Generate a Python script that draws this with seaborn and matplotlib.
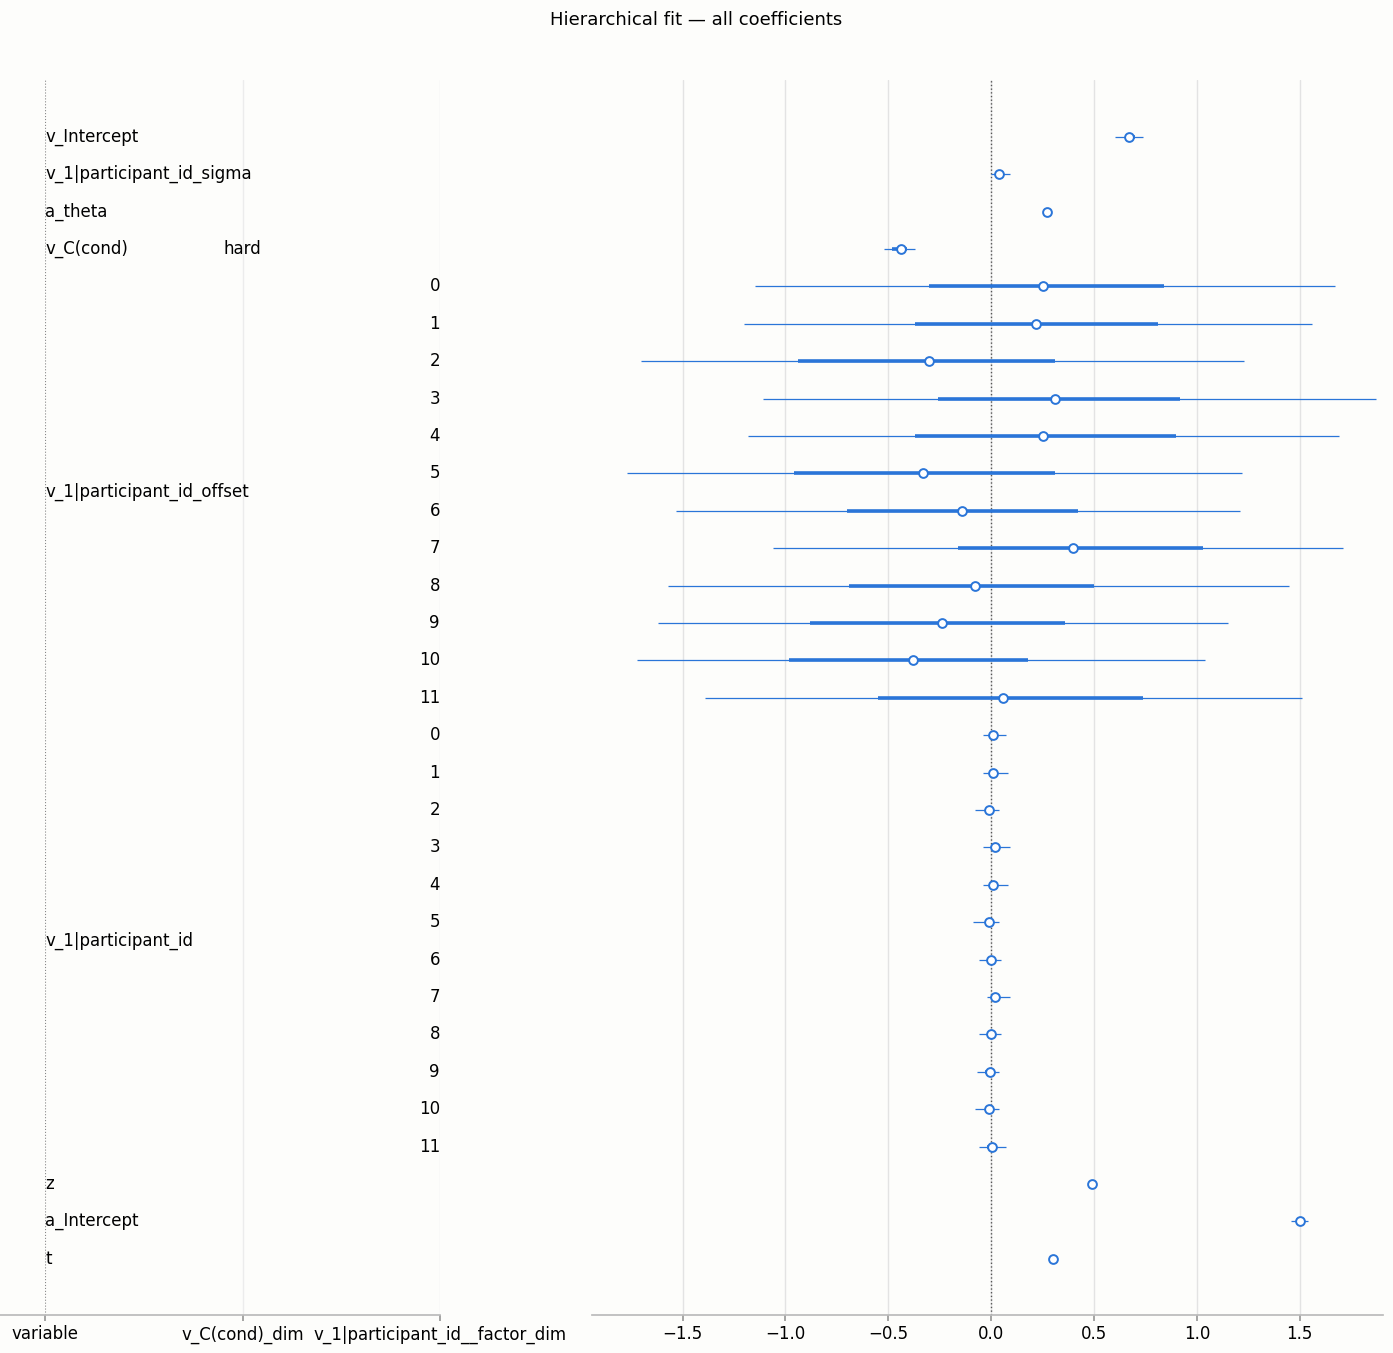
import numpy as np
import matplotlib
matplotlib.use("Agg")
import matplotlib.pyplot as plt
import seaborn as sns

sns.set_theme(style="white")
plt.rcParams["font.family"] = ["DejaVu Sans"]
plt.rcParams["text.color"] = "black"
plt.rcParams["xtick.color"] = "black"

BLUE = "#2a75d8"
BG = "#fdfdfb"

# rows top to bottom: (variable, cond_dim, factor_dim)
variables = ["v_Intercept", "v_1|participant_id_sigma", "a_theta", "v_C(cond)"] + \
    ["v_1|participant_id_offset"] * 12 + ["v_1|participant_id"] * 12 + ["z", "a_Intercept", "t"]
cond_dim = ["", "", "", "hard"] + [""] * 27
factor_dim = ["", "", "", ""] + [str(i) for i in range(12)] * 2 + ["", "", ""]

means = [0.67, 0.04, 0.27, -0.44,
         0.25, 0.22, -0.30, 0.31, 0.25, -0.33, -0.14, 0.40, -0.08, -0.24, -0.38, 0.06,
         0.01, 0.01, -0.01, 0.02, 0.01, -0.01, 0.0, 0.02, 0.0, -0.005, -0.01, 0.005,
         0.49, 1.50, 0.30]
hdi_lo = [0.60, 0.0, 0.25, -0.52,
          -1.15, -1.20, -1.70, -1.11, -1.18, -1.77, -1.53, -1.06, -1.57, -1.62, -1.72, -1.39,
          -0.04, -0.04, -0.08, -0.04, -0.04, -0.09, -0.06, -0.02, -0.06, -0.07, -0.08, -0.06,
          0.48, 1.46, 0.29]
hdi_hi = [0.74, 0.09, 0.29, -0.37,
          1.67, 1.56, 1.23, 1.87, 1.69, 1.22, 1.21, 1.71, 1.45, 1.15, 1.04, 1.51,
          0.07, 0.08, 0.04, 0.09, 0.08, 0.04, 0.05, 0.09, 0.05, 0.04, 0.04, 0.07,
          0.50, 1.54, 0.31]
iqr_lo = [0.65, 0.02, 0.26, -0.48,
          -0.30, -0.37, -0.94, -0.26, -0.37, -0.96, -0.70, -0.16, -0.69, -0.88, -0.98, -0.55,
          -0.01, -0.01, -0.03, 0.0, -0.01, -0.03, -0.02, 0.0, -0.02, -0.03, -0.03, -0.02,
          0.49, 1.49, 0.30]
iqr_hi = [0.70, 0.06, 0.28, -0.41,
          0.84, 0.81, 0.31, 0.92, 0.90, 0.31, 0.42, 1.03, 0.50, 0.36, 0.18, 0.74,
          0.03, 0.03, 0.01, 0.04, 0.03, 0.01, 0.02, 0.04, 0.02, 0.01, 0.01, 0.03,
          0.49, 1.51, 0.30]

n = len(means)
ys = np.arange(n)

fig = plt.figure(figsize=(13.93, 13.53), dpi=100, facecolor=BG)
axl = fig.add_axes([45 / 1393, 1 - 1315 / 1353, 395 / 1393, (1315 - 80) / 1353])
axr = fig.add_axes([592 / 1393, 1 - 1315 / 1353, 791 / 1393, (1315 - 80) / 1353])
ylim = (31.5, -1.52)

for ax in (axl, axr):
    ax.set_facecolor(BG)
    ax.set_ylim(*ylim)
    ax.set_yticks([])
    for s in ["top", "right", "left"]:
        ax.spines[s].set_visible(False)
    ax.spines["bottom"].set_color("#bbbbbb")

# right: forest
axr.set_xlim(-1.94, 1.905)
axr.set_xticks([-1.5, -1.0, -0.5, 0.0, 0.5, 1.0, 1.5])
axr.set_xticklabels(["\u22121.5", "\u22121.0", "\u22120.5", "0.0", "0.5", "1.0", "1.5"], fontsize=12)
axr.tick_params(axis="x", bottom=True, length=4, color="#999999")
for t in axr.get_xticks():
    axr.axvline(t, color="#e3e3e3", lw=1, zorder=0)
axr.axvline(0, color="#555555", lw=1, ls=":", zorder=1)
axr.hlines(ys, hdi_lo, hdi_hi, color=BLUE, lw=0.9, zorder=2)
axr.hlines(ys, iqr_lo, iqr_hi, color=BLUE, lw=2.6, zorder=3)
sns.scatterplot(x=means, y=ys, ax=axr, s=40, color="white", edgecolor=BLUE,
                linewidth=1.4, zorder=4, legend=False)

# left: labels
axl.set_xlim(0, 1)
axl.set_xticks([0, 0.5, 1])
axl.set_xticklabels(["variable", "v_C(cond)_dim", "v_1|participant_id__factor_dim"], fontsize=12)
axl.tick_params(axis="x", bottom=True, length=4, color="#999999")
axl.spines["bottom"].set_bounds(-45 / 395, 1)
axl.axvline(0, color="#888888", lw=0.8, ls=":")
axl.axvline(0.5, color="#ececec", lw=1)
axl.axvline(1, color="#ececec", lw=1)

for v in dict.fromkeys(variables):
    idx = [i for i, x in enumerate(variables) if x == v]
    axl.text(0, np.mean(idx), v, ha="left", va="center", fontsize=12)
for i in range(n):
    if cond_dim[i]:
        axl.text(0.5, i, cond_dim[i], ha="center", va="center", fontsize=12)
    if factor_dim[i]:
        axl.text(1, i, factor_dim[i], ha="right", va="center", fontsize=12)

fig.text(0.5, 1 - 20 / 1353, "Hierarchical fit \u2014 all coefficients", ha="center", va="center", fontsize=13)
fig.savefig("out.png", dpi=100, facecolor=BG)
